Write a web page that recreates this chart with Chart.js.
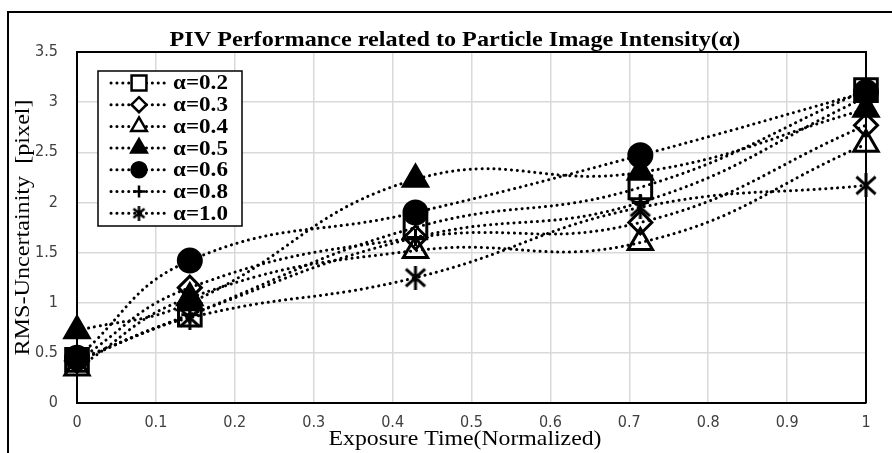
<!DOCTYPE html>
<html>
<head>
<meta charset="utf-8">
<script src="https://cdn.jsdelivr.net/npm/chart.js@4/dist/chart.umd.min.js"></script>
<style>
  html, body { margin: 0; padding: 0; background: #fff; }
</style>
</head>
<body>
<canvas id="chartPiv" width="892" height="453"></canvas>
<script>
// data
const exposureTimes = [0, 0.143, 0.429, 0.714, 1];
const alphaLabels = ['α=0.2', 'α=0.3', 'α=0.4', 'α=0.5', 'α=0.6', 'α=0.8', 'α=1.0'];
const rmsAlpha02 = [0.43, 0.88, 1.75, 2.15, 3.12];
const rmsAlpha03 = [0.42, 1.15, 1.65, 1.80, 2.77];
const rmsAlpha04 = [0.35, 1.05, 1.52, 1.60, 2.58];
const rmsAlpha05 = [0.72, 1.00, 2.23, 2.30, 2.93];
const rmsAlpha06 = [0.45, 1.42, 1.90, 2.47, 3.10];
const rmsAlpha08 = [0.42, 0.88, 1.65, 2.00, 3.05];
const rmsAlpha10 = [0.42, 0.85, 1.25, 1.95, 2.17];
const xTickValues = [0, 0.1, 0.2, 0.3, 0.4, 0.5, 0.6, 0.7, 0.8, 0.9, 1];
const xTickLabels = ['0', '0.1', '0.2', '0.3', '0.4', '0.5', '0.6', '0.7', '0.8', '0.9', '1'];
const yTickValues = [0, 0.5, 1, 1.5, 2, 2.5, 3, 3.5];
const yTickLabels = ['0', '0.5', '1', '1.5', '2', '2.5', '3', '3.5'];

function asteriskCanvas(size, lw) {
    const c = document.createElement('canvas');
    c.width = size;
    c.height = size;
    const g = c.getContext('2d');
    g.strokeStyle = '#000';
    g.lineWidth = lw;
    const m = lw * 0.8;
    g.beginPath();
    g.moveTo(m, m + 1);
    g.lineTo(size - m, size - m - 1);
    g.moveTo(size - m, m + 1);
    g.lineTo(m, size - m - 1);
    g.moveTo(size / 2, 0);
    g.lineTo(size / 2, size);
    g.stroke();
    return c;
}

const starBig = asteriskCanvas(24, 3);
const starSmall = asteriskCanvas(15, 2.5);

// marker per series: chart style, legend style
const markers = [
    { style: 'rect', r: 16, lr: 10.5, fill: false },
    { style: 'rectRot', r: 11.5, lr: 7.5, fill: false },
    { style: 'triangle', r: 14, lr: 9, fill: false },
    { style: 'triangle', r: 14, lr: 9, fill: true },
    { style: 'circle', r: 11.5, lr: 7.5, fill: true },
    { style: 'cross', r: 8.5, lr: 6, fill: false },
    { style: starBig, legendStyle: starSmall, r: 12, lr: 7, fill: false }
];

const seriesValues = [rmsAlpha02, rmsAlpha03, rmsAlpha04, rmsAlpha05, rmsAlpha06, rmsAlpha08, rmsAlpha10];

const datasets = seriesValues.map(function(vals, i) {
    const mk = markers[i];
    return {
        label: alphaLabels[i],
        data: exposureTimes.map(function(x, j) { return { x: x, y: vals[j] }; }),
        showLine: true,
        clip: false,
        borderColor: '#000',
        borderWidth: 3,
        borderDash: [0.1, 5.8],
        borderCapStyle: 'round',
        tension: 0.45,
        pointStyle: mk.style,
        pointRadius: mk.r,
        pointHoverRadius: mk.r,
        pointBackgroundColor: mk.fill ? '#000' : 'rgba(0,0,0,0)',
        pointBorderColor: '#000',
        pointBorderWidth: 3
    };
});

// serif text of the picture is a bit wider than Liberation Serif
function wideText(ctx, text, x, y, font, stretch, align, rot) {
    ctx.save();
    ctx.translate(x, y);
    if (rot) ctx.rotate(rot);
    ctx.scale(stretch, 1);
    ctx.font = font;
    ctx.fillStyle = '#000';
    ctx.textAlign = align;
    ctx.textBaseline = 'middle';
    ctx.fillText(text, 0, 0);
    ctx.restore();
}

const framePlugin = {
    id: 'frame',
    beforeDraw(chart) {
        const ctx = chart.ctx;
        ctx.save();
        ctx.strokeStyle = '#000';
        ctx.lineWidth = 2;
        ctx.beginPath();
        ctx.moveTo(8, 453);
        ctx.lineTo(8, 12);
        ctx.lineTo(892, 12);
        ctx.stroke();
        ctx.restore();
        wideText(ctx, 'PIV Performance related to Particle Image Intensity(α)', 455, 40,
            'bold 22px "Liberation Serif"', 1.1, 'center');
        const a = chart.chartArea;
        wideText(ctx, 'Exposure Time(Normalized)', 465, 439,
            '22px "Liberation Serif"', 1.08, 'center');
        wideText(ctx, 'RMS-Uncertainity  [pixel]', 23, (a.top + a.bottom) / 2,
            '21px "Liberation Serif"', 1.15, 'center', -Math.PI / 2);
    },
    beforeDatasetsDraw(chart) {
        const a = chart.chartArea;
        const ctx = chart.ctx;
        ctx.save();
        ctx.strokeStyle = '#000';
        ctx.lineWidth = 2;
        ctx.beginPath();
        ctx.moveTo(a.left, a.top);
        ctx.lineTo(a.right, a.top);
        ctx.lineTo(a.right, a.bottom);
        ctx.stroke();
        ctx.restore();
    }
};

const legendPlugin = {
    id: 'boxLegend',
    afterDatasetsDraw(chart) {
        const ctx = chart.ctx;
        const bx = 98, by = 71, bw = 144, bh = 155;
        ctx.save();
        ctx.fillStyle = '#fff';
        ctx.fillRect(bx, by, bw, bh);
        ctx.strokeStyle = '#000';
        ctx.lineWidth = 1.5;
        ctx.strokeRect(bx, by, bw, bh);
        alphaLabels.forEach(function(label, i) {
            const y = 83 + i * 21.7;
            const mk = markers[i];
            ctx.save();
            ctx.setLineDash([0.1, 5.8]);
            ctx.lineCap = 'round';
            ctx.lineWidth = 3;
            ctx.beginPath();
            ctx.moveTo(111, y);
            ctx.lineTo(167, y);
            ctx.stroke();
            ctx.restore();
            ctx.fillStyle = mk.fill ? '#000' : '#fff';
            ctx.strokeStyle = '#000';
            ctx.lineWidth = 2.5;
            Chart.helpers.drawPoint(ctx, {
                pointStyle: mk.legendStyle || mk.style,
                radius: mk.lr,
                rotation: 0,
                borderWidth: 2.5
            }, 139, y);
            wideText(ctx, label, 173, y + 1, 'bold 21px "Liberation Serif"', 1.1, 'left');
        });
        ctx.restore();
    }
};

const tickFont = { family: '"DejaVu Sans Condensed", "Liberation Sans Narrow", "Liberation Sans", sans-serif', size: 16 };

const ctxPiv = document.getElementById('chartPiv').getContext('2d');

const chartPiv = new Chart(ctxPiv, {
    type: 'scatter',
    data: { datasets: datasets },
    options: {
        responsive: false,
        devicePixelRatio: 1,
        animation: false,
        layout: { padding: { left: 8, top: 52, right: 26, bottom: 0 } },
        plugins: {
            legend: { display: false },
            tooltip: { enabled: false }
        },
        scales: {
            x: {
                type: 'linear',
                min: 0,
                max: 1,
                afterBuildTicks: function(scale) {
                    scale.ticks = xTickValues.map(function(v) { return { value: v }; });
                },
                afterFit: function(scale) { scale.height = 50; },
                ticks: {
                    font: tickFont, color: '#404040', padding: 10, maxRotation: 0, autoSkip: false,
                    callback: function(value, index) { return xTickLabels[index]; }
                },
                grid: { color: '#d9d9d9', lineWidth: 1.5, drawTicks: false },
                border: { color: '#000', width: 2 }
            },
            y: {
                type: 'linear',
                min: 0,
                max: 3.5,
                afterBuildTicks: function(scale) {
                    scale.ticks = yTickValues.map(function(v) { return { value: v }; });
                },
                afterFit: function(scale) { scale.width = 69; },
                ticks: {
                    font: tickFont, color: '#404040', padding: 19,
                    callback: function(value, index) { return yTickLabels[index]; }
                },
                grid: { color: '#d9d9d9', lineWidth: 1.5, drawTicks: false },
                border: { color: '#000', width: 2 }
            }
        }
    },
    plugins: [framePlugin, legendPlugin]
});
</script>
</body>
</html>
